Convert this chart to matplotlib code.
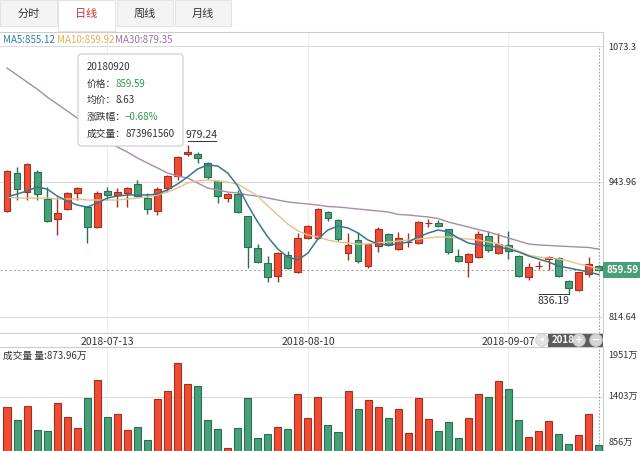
import matplotlib
matplotlib.use('Agg')
import matplotlib.pyplot as plt
from matplotlib.patches import Rectangle, FancyBboxPatch, Circle
from matplotlib.transforms import blended_transform_factory, ScaledTranslation

plt.rcParams['font.family'] = ['Noto Sans CJK SC', 'DejaVu Sans']

# ---------------- data ----------------
dates = ['2018-06-29',
         '2018-07-02', '2018-07-03', '2018-07-04', '2018-07-05', '2018-07-06',
         '2018-07-09', '2018-07-10', '2018-07-11', '2018-07-12', '2018-07-13',
         '2018-07-16', '2018-07-17', '2018-07-18', '2018-07-19', '2018-07-20',
         '2018-07-23', '2018-07-24', '2018-07-25', '2018-07-26', '2018-07-27',
         '2018-07-30', '2018-07-31', '2018-08-01', '2018-08-02', '2018-08-03',
         '2018-08-06', '2018-08-07', '2018-08-08', '2018-08-09', '2018-08-10',
         '2018-08-13', '2018-08-14', '2018-08-15', '2018-08-16', '2018-08-17',
         '2018-08-20', '2018-08-21', '2018-08-22', '2018-08-23', '2018-08-24',
         '2018-08-27', '2018-08-28', '2018-08-29', '2018-08-30', '2018-08-31',
         '2018-09-03', '2018-09-04', '2018-09-05', '2018-09-06', '2018-09-07',
         '2018-09-10', '2018-09-11', '2018-09-12', '2018-09-13', '2018-09-14',
         '2018-09-17', '2018-09-18', '2018-09-19', '2018-09-20']

opens = [915.8, 952.1, 933.9, 953.0, 927.3, 908.2, 917.7, 933.0, 919.6, 900.5,
         934.9, 931.1, 933.0, 941.6, 928.2, 915.8, 937.8, 949.2, 970.2, 970.2,
         961.6, 944.4, 928.2, 932.0, 911.0, 880.5, 866.2, 853.8, 873.8, 857.6,
         890.0, 890.0, 914.9, 907.2, 875.7, 888.1, 863.3, 882.4, 893.9, 879.5,
         886.0, 885.3, 903.9, 904.3, 898.6, 872.9, 867.1, 871.9, 892.0, 875.7,
         883.4, 872.9, 852.8, 863.0, 870.0, 870.9, 849.0, 840.4, 855.7, 863.5]
highs = [955.0, 957.8, 961.5, 955.0, 938.7, 929.2, 934.0, 938.5, 920.5, 934.9,
         938.7, 937.8, 938.5, 945.4, 933.0, 938.7, 950.0, 968.0, 979.24, 972.1,
         962.5, 945.0, 933.0, 935.9, 911.5, 884.3, 872.9, 876.5, 877.6, 894.8,
         902.0, 918.5, 915.5, 908.0, 894.8, 895.8, 885.0, 900.5, 894.5, 895.8,
         894.8, 906.0, 908.2, 907.0, 899.0, 879.5, 875.5, 896.7, 896.7, 894.8,
         896.7, 873.5, 866.2, 868.1, 872.9, 871.5, 849.5, 858.0, 871.9, 864.0]
lows = [915.0, 926.3, 926.3, 926.3, 905.0, 892.9, 917.0, 926.3, 885.3, 899.5,
        926.3, 919.6, 919.6, 929.0, 912.9, 912.0, 933.9, 945.4, 968.3, 961.6,
        946.4, 923.4, 924.4, 914.0, 861.4, 866.0, 848.0, 848.0, 860.0, 856.6,
        889.0, 889.0, 906.3, 887.2, 869.0, 866.2, 861.4, 876.7, 882.5, 878.5,
        881.4, 884.0, 900.5, 901.0, 874.8, 867.0, 852.8, 870.5, 877.0, 874.5,
        870.0, 853.0, 849.9, 860.0, 859.5, 853.0, 836.19, 839.5, 852.8, 859.0]
closes = [954.0, 936.8, 960.7, 932.0, 906.3, 913.9, 933.0, 937.8, 900.5, 933.0,
          931.1, 934.0, 937.8, 930.1, 917.7, 936.8, 949.2, 967.4, 972.1, 966.4,
          948.3, 930.1, 932.0, 914.9, 881.4, 867.1, 852.8, 875.7, 861.4, 890.0,
          901.5, 917.7, 909.1, 889.1, 883.4, 868.1, 884.3, 898.6, 883.4, 890.0,
          886.5, 905.3, 904.4, 901.5, 876.7, 868.1, 874.8, 893.9, 878.6, 884.3,
          877.6, 853.8, 862.4, 863.5, 871.9, 853.8, 842.3, 857.6, 865.5, 859.59]
volumes = [1295, 1150, 1306, 1042, 1031, 1332, 1186, 1060, 1386, 1585,
           1186, 1215, 1042, 1071, 933, 1378, 1468, 1766, 1541, 1523,
           1150, 1056, 850, 1060, 1389, 958, 1002, 1071, 1049, 1436,
           1175, 1403, 1096, 1017, 1468, 1270, 1364, 1295, 1175, 1266,
           1012, 1389, 1164, 1031, 1132, 958, 1175, 1436, 1397, 1574,
           1487, 1150, 969, 1031, 1143, 1002, 890, 984, 1219, 873.96]  # 万
ma5 = [929.2, 932.0, 934.9, 938.7, 936.8, 930.1, 925.4, 921.5, 919.6, 923.4,
       928.2, 930.1, 931.1, 931.1, 931.1, 932.0, 935.9, 941.6, 948.3, 955.9,
       959.7, 958.8, 952.1, 939.7, 921.5, 905.3, 891.0, 879.5, 871.9, 869.0,
       875.7, 889.1, 897.7, 901.5, 899.6, 894.8, 888.1, 884.3, 883.4, 884.3,
       886.2, 891.0, 894.8, 897.7, 895.8, 890.0, 885.3, 883.4, 882.4, 881.4,
       879.5, 876.7, 872.9, 870.0, 867.1, 863.3, 861.4, 859.5, 857.6, 855.12]
ma10 = [929.2, 928.2, 928.2, 928.2, 928.2, 927.3, 927.3, 927.3, 926.3, 926.3,
        926.3, 926.3, 927.3, 928.2, 929.2, 931.1, 934.0, 937.8, 942.5, 944.4,
        945.4, 944.4, 943.5, 941.6, 935.9, 930.1, 920.6, 912.0, 903.4, 896.7,
        892.9, 891.0, 888.1, 886.2, 885.3, 884.3, 884.3, 885.3, 886.2, 887.2,
        888.1, 889.1, 890.0, 891.0, 891.0, 890.0, 889.1, 888.1, 886.2, 884.3,
        881.4, 877.6, 873.8, 871.9, 870.9, 870.0, 868.1, 865.2, 863.3, 859.92]
ma30 = [1052.3, 1045.6, 1038.9, 1032.3, 1024.6, 1018.0, 1011.3, 1004.6, 997.9, 991.2,
        983.6, 976.9, 972.1, 966.4, 961.6, 956.9, 952.1, 949.2, 947.3, 942.5,
        937.8, 935.9, 933.9, 933.0, 931.1, 930.1, 928.2, 926.3, 924.4, 923.4,
        922.5, 921.5, 920.1, 919.6, 918.7, 917.7, 916.8, 915.8, 914.9, 912.5,
        912.0, 911.0, 910.1, 908.6, 905.3, 902.9, 900.5, 898.1, 895.8, 892.9,
        890.0, 887.2, 884.3, 883.4, 882.9, 882.4, 881.9, 881.4, 881.0, 879.35]

price_ticks = [1073.3, 943.96, 814.64]
vol_ticks = [1951, 1403, 856]
date_ticks = ['2018-07-13', '2018-08-10', '2018-09-07']
tabs = ['分时', '日线', '周线', '月线']
selected_tab = '日线'
tip_date = '20180920'
tip_avg = 8.63
tip_change = '−0.68%'
tip_volume = 873961560

# ---------------- style ----------------
UP_FILL, UP_EDGE = '#ef4b35', '#a3301f'
DN_FILL, DN_EDGE = '#46a07a', '#2c6e50'
GRID = '#dcdcdc'
TXT = '#333333'
MA5_C, MA10_C, MA30_C = '#3a7590', '#e3c38c', '#a98ba8'

W, H = 640, 451
fig = plt.figure(figsize=(W / 100, H / 100), dpi=100)
fig.patch.set_facecolor('white')


def frect(x0, y0, x1, y1):
    return [x0 / W, 1 - y1 / H, (x1 - x0) / W, (y1 - y0) / H]


n = len(dates)
xs = list(range(n))
CX0, CX1 = 0, 603
X_FIRST, X_STEP = 7.0, 10.03
xl = ((CX0 - X_FIRST) / X_STEP, (CX1 - X_FIRST) / X_STEP)
tick_idx = [dates.index(d) for d in date_ticks]

# ---------------- price panel ----------------
ax = fig.add_axes(frect(CX0, 32, CX1, 333))
PT, PB = 46.0, 317.0
sp = (price_ticks[0] - price_ticks[-1]) / (PB - PT)
ax.set_ylim(price_ticks[-1] - (333 - PB) * sp, price_ticks[0] + (PT - 32) * sp)
ax.set_xlim(*xl)

for t in price_ticks:
    ax.axhline(t, color=GRID, lw=0.8, zorder=1)
for i in tick_idx:
    ax.axvline(i, color='#f0f0f0', lw=0.8, zorder=0)

for i in xs:
    o, h, l, c = opens[i], highs[i], lows[i], closes[i]
    up = c >= o
    fc, ec = (UP_FILL, UP_EDGE) if up else (DN_FILL, DN_EDGE)
    ax.plot([i, i], [l, h], color=ec, lw=1, zorder=3, solid_capstyle='butt')
    bottom = min(o, c)
    height = max(abs(c - o), 0.5)
    ax.add_patch(Rectangle((i - 0.34, bottom), 0.68, height, fc=fc, ec=ec,
                           lw=0.8, zorder=4))

ax.plot(xs, ma30, color=MA30_C, lw=1.0, zorder=5)
ax.plot(xs, ma10, color=MA10_C, lw=1.0, zorder=5)
ax.plot(xs, ma5, color=MA5_C, lw=1.1, zorder=5)

# last price guide lines
ax.axhline(closes[-1], ls=(0, (2, 2)), color='#a8a8a8', lw=0.8, zorder=2)
ax.plot([n - 1, n - 1], [ax.get_ylim()[0], price_ticks[0]], ls=(0, (1.5, 1.5)),
        color='#a0a0a0', lw=0.8, zorder=2)
bt = blended_transform_factory(ax.transAxes, ax.transData)
ax.text(1.006, closes[-1], f'{closes[-1]:.2f}', transform=bt, va='center',
        ha='left', fontsize=7, color='white', fontweight='bold',
        bbox=dict(boxstyle='square,pad=0.35', fc='#4a9f78', ec='none'),
        clip_on=False, zorder=6)

# high / low markers
hi_i = highs.index(max(highs))
lo_i = lows.index(min(lows))
ax.plot([hi_i, hi_i + 2.85], [highs[hi_i] + 3, highs[hi_i] + 3], color=TXT,
        lw=0.7, zorder=6)
ax.text(hi_i + 1.4, highs[hi_i] + 4, f'{highs[hi_i]:.2f}', ha='center',
        va='bottom', fontsize=7.5, color=TXT, zorder=6)
ax.plot([lo_i - 3, lo_i], [lows[lo_i], lows[lo_i]], color=TXT, lw=0.7, zorder=6)
ax.text(lo_i - 1.5, lows[lo_i] - 1.5, f'{lows[lo_i]:.2f}', ha='center',
        va='top', fontsize=7.5, color=TXT, zorder=6)

ax.yaxis.tick_right()
ax.set_yticks(price_ticks)
ax.set_yticklabels([f'{v:g}' for v in price_ticks])
ax.tick_params(axis='y', length=0, pad=4, labelsize=6.6, labelcolor=TXT)
ax.set_xticks(tick_idx)
ax.set_xticklabels(date_ticks)
ax.tick_params(axis='x', length=0, pad=3, labelsize=7.5, labelcolor=TXT)
ax.spines['left'].set_visible(False)
for s in ['top', 'right', 'bottom']:
    ax.spines[s].set_color('#cccccc')
    ax.spines[s].set_linewidth(0.8)

# ---------------- volume panel ----------------
axv = fig.add_axes(frect(CX0, 347, CX1, 451))
VT, VB = 346.3, 447.1
sv = (vol_ticks[0] - vol_ticks[-1]) / (VB - VT)
axv.set_ylim(vol_ticks[-1] - (451 - VB) * sv, vol_ticks[0] - (347 - VT) * sv)
axv.set_xlim(*xl)
axv.axhline(vol_ticks[1], color=GRID, lw=0.8, zorder=1)
for i in tick_idx:
    axv.axvline(i, color='#f0f0f0', lw=0.8, zorder=0)
fills = [UP_FILL if closes[i] >= opens[i] else DN_FILL for i in xs]
edges = [UP_EDGE if closes[i] >= opens[i] else DN_EDGE for i in xs]
axv.bar(xs, volumes, width=0.7, color=fills, edgecolor=edges, lw=0.8, zorder=3)
axv.axvline(n - 1, ls=(0, (1.5, 1.5)), color='#a0a0a0', lw=0.8, zorder=2)
axv.set_yticks([])
axv.set_xticks([])
axv.spines['left'].set_visible(False)
axv.spines['bottom'].set_visible(False)
for s in ['top', 'right']:
    axv.spines[s].set_color('#cccccc')
    axv.spines[s].set_linewidth(0.8)
bv = blended_transform_factory(axv.transAxes, axv.transData)
offs = [-9.5, 0, 5]
for v, off in zip(vol_ticks, offs):
    axv.text(1.009, v, f'{v:g}万',
             transform=bv + ScaledTranslation(0, off / 100, fig.dpi_scale_trans),
             va='center', ha='left', fontsize=6.6, color=TXT, clip_on=False)

# ---------------- overlay (tabs, legends, tooltip) ----------------
ov = fig.add_axes([0, 0, 1, 1], zorder=10)
ov.set_xlim(0, W)
ov.set_ylim(H, 0)
ov.axis('off')
ov.patch.set_alpha(0)

tab_edges = [(0, 57), (58, 115), (117, 173), (175, 231)]
for (a, b), name in zip(tab_edges, tabs):
    sel = name == selected_tab
    ov.add_patch(Rectangle((a, 0), b - a, 31 if sel else 26,
                           fc='white' if sel else '#f4f4f4',
                           ec='#e4e4e4', lw=0.8))
    ov.text((a + b) / 2, 13.5, name, ha='center', va='center', fontsize=8,
            color='#c8322a' if sel else TXT)

ov.text(3, 40, f'MA5:{ma5[-1]:.2f}', fontsize=7, color='#2f7ea0', va='center')
ov.text(57, 40, f'MA10:{ma10[-1]:.2f}', fontsize=7, color='#e3b24c', va='center')
ov.text(115, 40, f'MA30:{ma30[-1]:.2f}', fontsize=7, color='#a070a0', va='center')

ov.text(3, 356, f'成交量 量:{volumes[-1]:.2f}万', fontsize=7, color=TXT, va='center')

# tooltip
ov.add_patch(FancyBboxPatch((78, 54), 105, 92,
                            boxstyle='round,pad=0,rounding_size=3',
                            fc='white', ec='#cccccc', lw=0.8))
GREEN_T = '#2e9a4e'
ov.text(87, 67, tip_date, fontsize=7, color=TXT, va='center')
ov.text(87, 84, '价格：', fontsize=7, color=TXT, va='center')
ov.text(116, 84, f'{closes[-1]:.2f}', fontsize=7, color=GREEN_T, va='center')
ov.text(87, 100, '均价：', fontsize=7, color=TXT, va='center')
ov.text(116, 100, f'{tip_avg:.2f}', fontsize=7, color=TXT, va='center')
ov.text(87, 117, '涨跌幅：', fontsize=7, color=TXT, va='center')
ov.text(125, 117, tip_change, fontsize=7, color=GREEN_T, va='center')
ov.text(87, 134, '成交量：', fontsize=7, color=TXT, va='center')
ov.text(125, 134, f'{tip_volume}', fontsize=7, color=TXT, va='center')

# scroll widget
ov.add_patch(Rectangle((548, 333.5), 55, 13.5, fc='#5c5c5c', ec='none'))
ov.add_patch(Circle((542, 340.2), 6.3, fc='#e2e2e2', ec='#cfcfcf', lw=0.6))
ov.text(541.5, 340.2, '◀', fontsize=4.5, color='white', ha='center', va='center',
        family=['DejaVu Sans'])
ov.text(563, 340.2, date_ticks[-1][:4], fontsize=7, color='white',
        ha='center', va='center', fontweight='bold')
for cx, sym in [(579, '+'), (596, '−')]:
    ov.add_patch(Circle((cx, 340.2), 6.3, fc='#d4d4d4', ec='#c4c4c4', lw=0.6))
    ov.text(cx, 340, sym, fontsize=7, color='white', ha='center', va='center',
            fontweight='bold', family=['DejaVu Sans'])

fig.savefig('out.png', dpi=100, facecolor='white')
